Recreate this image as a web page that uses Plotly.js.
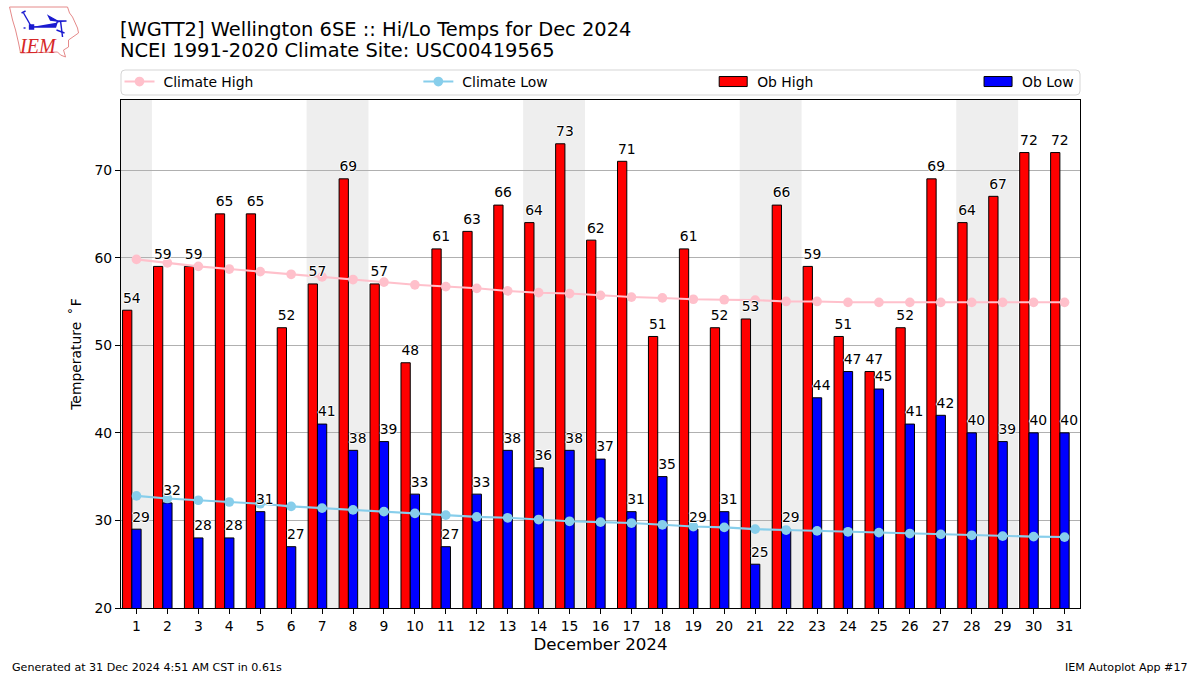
<!DOCTYPE html>
<html>
<head>
<meta charset="utf-8">
<script src="https://cdn.plot.ly/plotly-3.0.1.min.js"></script>
<style>html,body{margin:0;padding:0;background:#fff}#chart{width:1200px;height:675px}
/* reference legend: larger gap between handle and text */
text.legendtext,text.legend2text,text.legend3text,text.legend4text{transform:translateX(4px)}</style>
</head>
<body>
<div id="chart"></div>
<script>
const days = [1,2,3,4,5,6,7,8,9,10,11,12,13,14,15,16,17,18,19,20,21,22,23,24,25,26,27,28,29,30,31];
const obHigh = [54,59,59,65,65,52,57,69,57,48,61,63,66,64,73,62,71,51,61,52,53,66,59,51,47,52,69,64,67,72,72];
const obLow = [29,32,28,28,31,27,41,38,39,33,27,33,38,36,38,37,31,35,29,31,25,29,44,47,45,41,42,40,39,40,40];
const climateHigh = [59.8,59.4,59.0,58.7,58.4,58.1,57.8,57.5,57.2,56.9,56.7,56.5,56.2,56.0,55.9,55.7,55.5,55.4,55.25,55.2,55.15,55.0,55.0,54.9,54.9,54.9,54.9,54.9,54.9,54.9,54.9];
const climateLow = [32.8,32.5,32.3,32.1,31.9,31.6,31.4,31.2,31.0,30.8,30.6,30.4,30.3,30.1,29.9,29.8,29.7,29.5,29.3,29.2,29.0,28.9,28.8,28.7,28.6,28.5,28.4,28.3,28.2,28.15,28.1];
const weekendDays = [1,7,8,14,15,21,22,28,29];
const yTicks = [20,30,40,50,60,70];

const W = 1200, H = 675;
const FONT = '"DejaVu Sans", sans-serif';
const L = 120.5, R = 1080, T = 100, B = 608;
const px = x => (x - L) / (R - L);
const py = y => (B - y) / (B - T);
const halo = '1px 0 0 #fff,-1px 0 0 #fff,0 1px 0 #fff,0 -1px 0 #fff';

function pxPath(d) {
  return d.replace(/([ML])(\d+(?:\.\d+)?),(\d+(?:\.\d+)?)/g, (m, c, x, y) => c + px(+x) + ',' + py(+y));
}
const logoOutline = 'M9,7 L67,7 L69,13 L72,17 L77,28 L78,33 L68,40 L68,47 L63,50 L65,57 L60,55 L57,52 L20,53 L18,43 L15,30 L12,20 Z';
const logoBlue = ['M31,27 L55,27 L57,21 L66,21','M48,16 L57,21 L50,20 Z','M31,27 L23,13','M21,13 L25,11','M60,21 L62,37','M56,30 L64,33','M23,28 L25,28','M29,25 L33,25 L33,29 L29,29 Z'];

const shapes = [];
let spanStart = null;
weekendDays.forEach((d, i) => {
  if (spanStart === null) spanStart = d;
  if (weekendDays[i + 1] !== d + 1) {
    shapes.push({type:'rect', layer:'below', xref:'x', yref:'paper', x0:spanStart-0.5, x1:d+0.5, y0:0, y1:1, fillcolor:'#eeeeee', line:{width:0}});
    spanStart = null;
  }
});
const r = 4;
shapes.push({type:'path', layer:'above', xref:'paper', yref:'paper',
  path:`M${px(L+r)},${py(70)} L${px(R-r)},${py(70)} Q${px(R)},${py(70)} ${px(R)},${py(70+r)} L${px(R)},${py(95-r)} Q${px(R)},${py(95)} ${px(R-r)},${py(95)} L${px(L+r)},${py(95)} Q${px(L)},${py(95)} ${px(L)},${py(95-r)} L${px(L)},${py(70+r)} Q${px(L)},${py(70)} ${px(L+r)},${py(70)} Z`,
  line:{color:'#d5d5d5', width:1}, fillcolor:'rgba(255,255,255,0)'});
shapes.push({type:'path', layer:'above', xref:'paper', yref:'paper', path:pxPath(logoOutline), line:{color:'#e58a8a', width:1}, fillcolor:'rgba(255,255,255,0)'});
logoBlue.forEach(p => shapes.push({type:'path', layer:'above', xref:'paper', yref:'paper', path:pxPath(p), line:{color:'#1a1ad0', width:1.4}, fillcolor:'#1a1ad0'}));

const labelFont = {family:FONT, size:13.9, color:'#000', shadow:halo};
const traces = [
  {type:'bar', name:'Ob High', x:days, y:obHigh, width:0.3, offset:-0.45, marker:{color:'#ff0000', line:{color:'#000', width:1}}, legend:'legend3', hoverinfo:'x+y'},
  {type:'bar', name:'Ob Low', x:days, y:obLow, width:0.3, offset:-0.15, marker:{color:'#0000ff', line:{color:'#000', width:1}}, legend:'legend4', hoverinfo:'x+y'},
  {type:'scatter', mode:'lines+markers', name:'Climate High', x:days, y:climateHigh, line:{color:'#ffc0cb', width:2.1}, marker:{color:'#ffc0cb', size:9.7}, legend:'legend'},
  {type:'scatter', mode:'lines+markers', name:'Climate Low', x:days, y:climateLow, line:{color:'#87ceeb', width:2.1}, marker:{color:'#87ceeb', size:9.7}, legend:'legend2'},
  {type:'scatter', mode:'markers+text', marker:{size:5, opacity:0}, showlegend:false, hoverinfo:'skip', x:days.map(d=>d-0.15), y:obHigh, text:obHigh.map(String), textposition:'top center', textfont:labelFont, cliponaxis:false},
  {type:'scatter', mode:'markers+text', marker:{size:5, opacity:0}, showlegend:false, hoverinfo:'skip', x:days.map(d=>d+0.15), y:obLow, text:obLow.map(String), textposition:'top center', textfont:labelFont, cliponaxis:false}
];

const leg = x => ({orientation:'v', x:px(x), xanchor:'left', y:py(66), yanchor:'top', bgcolor:'rgba(0,0,0,0)', borderwidth:0, font:{family:FONT, size:13.9, color:'#000'}, itemwidth:30, tracegroupgap:0});

const note = (x, y, xanchor, text, font) => ({xref:'paper', yref:'paper', x:px(x), y:py(y), xanchor, yanchor:'middle', showarrow:false, text, font});
const annotations = [
  note(9.5, 667, 'left', 'Generated at 31 Dec 2024 4:51 AM CST in 0.61s', {family:FONT, size:11.1, color:'#000'}),
  note(1190, 667, 'right', 'IEM Autoplot App #17', {family:FONT, size:11.1, color:'#000'}),
  note(37, 46, 'center', '<i>IEM</i>', {family:'"Liberation Serif", serif', size:20, color:'#d62728'}),
  note(117.5, 51, 'left', 'NCEI 1991-2020 Climate Site: USC00419565', {family:FONT, size:19.44, color:'#000'})
];

const layout = {
  width:W, height:H, paper_bgcolor:'#fff', plot_bgcolor:'#fff', font:{family:FONT, color:'#000'},
  margin:{l:L, r:W-R, t:T, b:H-B, pad:0},
  title:{text:'[WGTT2] Wellington 6SE :: Hi/Lo Temps for Dec 2024', x:120/W, xref:'container', xanchor:'left', y:1-29/H, yref:'container', yanchor:'middle', font:{family:FONT, size:19.44, color:'#000'}},
  barmode:'overlay', showlegend:true, hovermode:'closest',
  xaxis:{range:[0.5,31.5], tickvals:days, ticktext:days.map(String), ticks:'outside', ticklen:5, tickwidth:1, tickcolor:'#000', showgrid:false, zeroline:false, showline:true, mirror:true, linecolor:'#000', linewidth:1, tickfont:{family:FONT, size:13.9}, title:{text:'December 2024', font:{family:FONT, size:16.67}, standoff:5}},
  yaxis:{range:[20,78], tickvals:yTicks, ticks:'outside', ticklen:5, tickwidth:1, tickcolor:'#000', showgrid:true, gridcolor:'#b0b0b0', gridwidth:1, zeroline:false, showline:true, mirror:true, linecolor:'#000', linewidth:1, tickfont:{family:FONT, size:13.9}, title:{text:'Temperature \u2009˚\u200aF', font:{family:FONT, size:13.9}, standoff:9}},
  legend:leg(119), legend2:leg(418), legend3:leg(713), legend4:leg(978),
  shapes, annotations
};

// reference legend: wide bar handles
function tweakLegend() {
  document.querySelectorAll('g.legendpoints path').forEach(p => {
    if (p.getAttribute('d') && /^M6,6H-6V-6H6Z$/.test(p.getAttribute('d').replace(/\s/g,''))) p.setAttribute('d','M14,5H-14V-5H14Z');
  });
}
Plotly.newPlot('chart', traces, layout, {displayModeBar:false, responsive:false}).then(gd => {
  tweakLegend();
  gd.on('plotly_afterplot', tweakLegend);
  requestAnimationFrame(tweakLegend);
  [20, 100, 300].forEach(t => setTimeout(tweakLegend, t));
});
</script>
</body>
</html>
